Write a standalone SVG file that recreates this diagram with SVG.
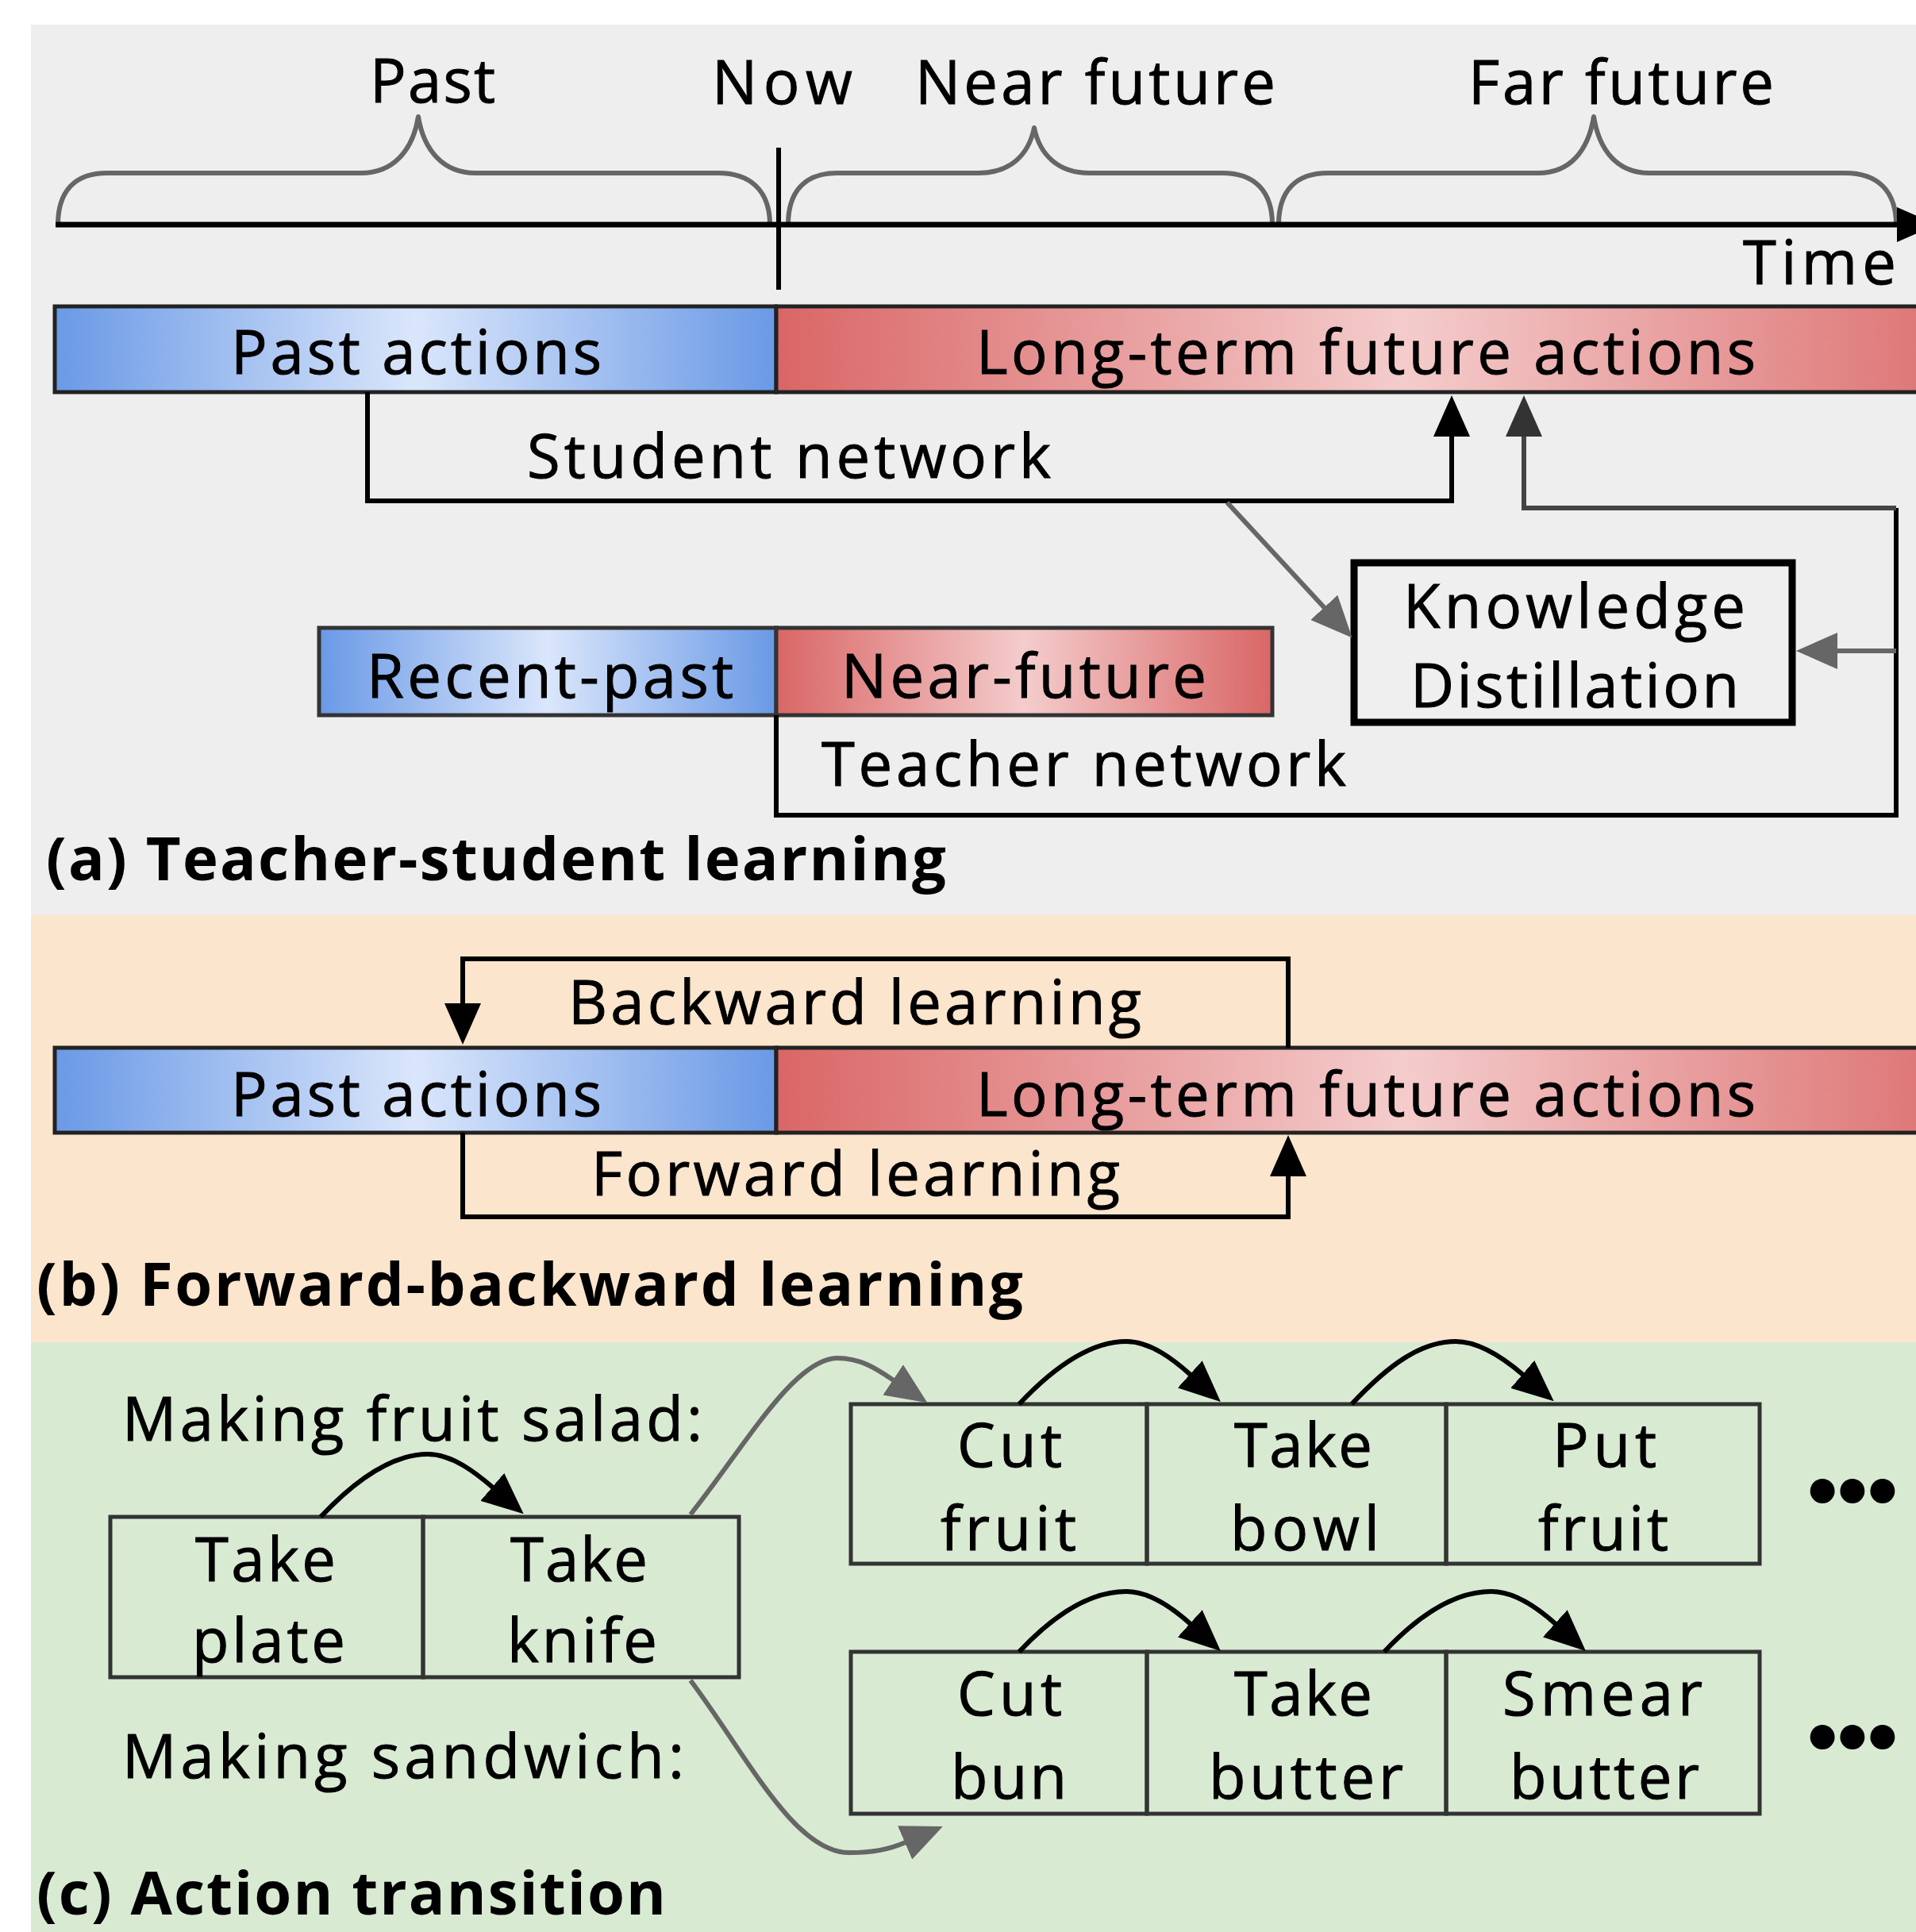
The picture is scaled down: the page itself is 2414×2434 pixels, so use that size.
<svg xmlns="http://www.w3.org/2000/svg" width="2414" height="2434" viewBox="0 0 2414 2434">
  <style>
    .t { font-family: "Open Sans", "Noto Sans", sans-serif; font-size: 76px; fill: #000; stroke: #000; stroke-width: 1; }
    .b { font-family: "Open Sans", "Noto Sans", sans-serif; font-size: 76px; font-weight: bold; fill: #000; }
    .bar { stroke: #222; stroke-width: 5; }
    .bar2 { stroke: #333; stroke-width: 5; }
    .cell { fill: none; stroke: #333; stroke-width: 5; }
    .brace { fill: none; stroke: #666; stroke-width: 6; stroke-linejoin: round; }
    .blk { fill: none; stroke: #000; stroke-width: 6; }
    .gry { fill: none; stroke: #666; stroke-width: 6; }
    .arc { fill: none; stroke: #000; stroke-width: 6; }
    .dots { font-family: "Liberation Sans", Arial, sans-serif; font-size: 108px; font-weight: bold; fill: #000; }
  </style>
  <defs>
    <linearGradient id="blue">
      <stop offset="0" stop-color="#6a99e6"/>
      <stop offset="0.5" stop-color="#dae6fb"/>
      <stop offset="1" stop-color="#6a99e6"/>
    </linearGradient>
    <linearGradient id="red">
      <stop offset="0" stop-color="#da6666"/>
      <stop offset="0.5" stop-color="#f4cccc"/>
      <stop offset="1" stop-color="#da6666"/>
    </linearGradient>
    <marker id="ahB" viewBox="0 -23 52 46" refX="1" refY="0" markerWidth="52" markerHeight="46" markerUnits="userSpaceOnUse" orient="auto">
      <path d="M0,-23 L52,0 L0,23 z" fill="#000"/>
    </marker>
    <marker id="ahG" viewBox="0 -23 52 46" refX="1" refY="0" markerWidth="52" markerHeight="46" markerUnits="userSpaceOnUse" orient="auto">
      <path d="M0,-23 L52,0 L0,23 z" fill="#666"/>
    </marker>
    <marker id="ahD" viewBox="0 -23 52 46" refX="1" refY="0" markerWidth="52" markerHeight="46" markerUnits="userSpaceOnUse" orient="auto">
      <path d="M0,-23 L52,0 L0,23 z" fill="#333"/>
    </marker>
  </defs>

  <!-- panel backgrounds -->
  <rect x="0" y="0" width="2414" height="2434" fill="#fff"/>
  <rect x="39" y="31" width="2375" height="1122" fill="#eeeeee"/>
  <rect x="39" y="1153" width="2375" height="538" fill="#fce5cd"/>
  <rect x="39" y="1691" width="2375" height="743" fill="#d9ead3"/>

  <!-- (a) time axis with period braces -->
  <g id="timeline">
    <path class="brace" d="M73,283 C73,240 95,218 135,218 H455 C495,218 520,190 527,147 C534,190 559,218 599,218 H905 C945,218 970,240 970,283"/>
    <path class="brace" d="M993,283 C993,240 1015,218 1055,218 H1233 C1273,218 1296,195 1303,161 C1310,195 1333,218 1373,218 H1540 C1580,218 1603,240 1603,283"/>
    <path class="brace" d="M1611,283 C1611,240 1633,218 1673,218 H1938 C1978,218 2001,190 2008,147 C2015,190 2038,218 2078,218 H2325 C2365,218 2389,240 2389,283"/>
    <line x1="70" y1="283" x2="2395" y2="283" stroke="#000" stroke-width="7"/>
    <polygon points="2390,261 2440,283 2390,305" fill="#000"/>
    <line x1="981" y1="186" x2="981" y2="365" stroke="#000" stroke-width="6"/>
    <text class="t" x="466" y="129" textLength="158">Past</text>
    <text class="t" x="897" y="131" textLength="177">Now</text>
    <text class="t" x="1153" y="131" textLength="454">Near future</text>
    <text class="t" x="1850" y="131" textLength="385">Far future</text>
    <text class="t" x="2196" y="358" textLength="193">Time</text>
  </g>

  <!-- (a) action bars -->
  <g id="a-past">
    <rect class="bar" x="69" y="386" width="909" height="108" fill="url(#blue)"/>
    <text class="t" x="291" y="471" textLength="467">Past actions</text>
  </g>
  <g id="a-future">
    <rect class="bar" x="978" y="386" width="1580" height="108" fill="url(#red)"/>
    <text class="t" x="1230" y="471" textLength="982">Long-term future actions</text>
  </g>
  <g id="recent-past">
    <rect class="bar2" x="402" y="791" width="576" height="110" fill="url(#blue)"/>
    <text class="t" x="462" y="879" textLength="462">Recent-past</text>
  </g>
  <g id="near-future">
    <rect class="bar2" x="978" y="791" width="625" height="110" fill="url(#red)"/>
    <text class="t" x="1060" y="879" textLength="460">Near-future</text>
  </g>
  <g id="kd">
    <rect x="1706" y="709" width="552" height="201" fill="#efefef" stroke="#000" stroke-width="9"/>
    <text class="t" x="1768" y="791" textLength="431">Knowledge</text>
    <text class="t" x="1777" y="891" textLength="414">Distillation</text>
  </g>

  <!-- (b) action bars -->
  <g id="b-past">
    <rect class="bar" x="69" y="1320" width="909" height="107" fill="url(#blue)"/>
    <text class="t" x="291" y="1406" textLength="467">Past actions</text>
  </g>
  <g id="b-future">
    <rect class="bar" x="978" y="1320" width="1580" height="107" fill="url(#red)"/>
    <text class="t" x="1230" y="1406" textLength="982">Long-term future actions</text>
  </g>

  <!-- (c) action sequences -->
  <g id="c-start">
    <rect class="cell" x="139" y="1911" width="394" height="202"/>
    <rect class="cell" x="533" y="1911" width="398" height="202"/>
    <text class="t" x="246" y="1992" textLength="177">Take</text>
    <text class="t" x="242" y="2094" textLength="193">plate</text>
    <text class="t" x="643" y="1992" textLength="173">Take</text>
    <text class="t" x="639" y="2094" textLength="189">knife</text>
  </g>
  <g id="c-salad">
    <rect class="cell" x="1072" y="1769" width="373" height="201"/>
    <rect class="cell" x="1445" y="1769" width="377" height="201"/>
    <rect class="cell" x="1822" y="1769" width="395" height="201"/>
    <text class="t" x="1206" y="1848" textLength="132">Cut</text>
    <text class="t" x="1185" y="1953" textLength="171">fruit</text>
    <text class="t" x="1555" y="1848" textLength="174">Take</text>
    <text class="t" x="1550" y="1953" textLength="188">bowl</text>
    <text class="t" x="1956" y="1848" textLength="131">Put</text>
    <text class="t" x="1938" y="1953" textLength="164">fruit</text>
    <text class="dots" x="2334" y="1914" text-anchor="middle">•••</text>
  </g>
  <g id="c-sandwich">
    <rect class="cell" x="1072" y="2081" width="373" height="204"/>
    <rect class="cell" x="1445" y="2081" width="377" height="204"/>
    <rect class="cell" x="1822" y="2081" width="395" height="204"/>
    <text class="t" x="1206" y="2161" textLength="132">Cut</text>
    <text class="t" x="1198" y="2266" textLength="146">bun</text>
    <text class="t" x="1555" y="2161" textLength="174">Take</text>
    <text class="t" x="1523" y="2266" textLength="245">butter</text>
    <text class="t" x="1893" y="2161" textLength="252">Smear</text>
    <text class="t" x="1902" y="2266" textLength="239">butter</text>
    <text class="dots" x="2334" y="2224" text-anchor="middle">•••</text>
  </g>

  <!-- connectors -->
  <g id="connectors">
    <!-- student network -->
    <path class="blk" d="M463,494 V631 H1829 V549" marker-end="url(#ahB)"/>
    <!-- teacher network -->
    <path class="blk" d="M978,901 V1027 H2389 V640"/>
    <path fill="none" stroke="#444" stroke-width="6" d="M2389,640 H1920 V549" marker-end="url(#ahD)"/>
    <!-- into knowledge distillation -->
    <path class="gry" d="M1546,633 L1669,766" marker-end="url(#ahG)"/>
    <path class="gry" d="M2389,820 H2314" marker-end="url(#ahG)"/>
    <!-- backward / forward learning -->
    <path class="blk" d="M1623,1320 V1208 H583 V1265" marker-end="url(#ahB)"/>
    <path class="blk" d="M583,1427 V1533 H1623 V1481" marker-end="url(#ahB)"/>
    <!-- action transitions -->
    <path class="arc" d="M404,1911 C450,1862 495,1832 539,1832 C570,1832 600,1856 621,1874" marker-end="url(#ahB)"/>
    <path class="arc" d="M1284,1769 C1330,1720 1375,1690 1419,1690 C1450,1690 1480,1714 1500,1732" marker-end="url(#ahB)"/>
    <path class="arc" d="M1703,1769 C1749,1720 1790,1690 1834,1690 C1866,1690 1898,1714 1919,1732" marker-end="url(#ahB)"/>
    <path class="arc" d="M1284,2081 C1330,2032 1375,2005 1419,2005 C1450,2005 1480,2028 1500,2046" marker-end="url(#ahB)"/>
    <path class="arc" d="M1744,2081 C1790,2032 1835,2005 1879,2005 C1910,2005 1940,2028 1960,2046" marker-end="url(#ahB)"/>
    <path class="gry" d="M870,1908 C940,1820 1000,1712 1055,1711 C1085,1711 1105,1725 1126,1739" marker-end="url(#ahG)"/>
    <path class="gry" d="M870,2117 C940,2210 1000,2334 1070,2334 C1100,2334 1120,2330 1141,2321" marker-end="url(#ahG)"/>
  </g>

  <!-- bracket labels and panel captions -->
  <g id="labels">
    <text class="t" x="664" y="602" textLength="660">Student network</text>
    <text class="t" x="1035" y="990" textLength="661">Teacher network</text>
    <text class="b" x="58" y="1109" textLength="1134">(a) Teacher-student learning</text>
    <text class="t" x="716" y="1290" textLength="722">Backward learning</text>
    <text class="t" x="745" y="1506" textLength="666">Forward learning</text>
    <text class="b" x="46" y="1645" textLength="1243">(b) Forward-backward learning</text>
    <text class="t" x="154" y="1815" textLength="731">Making fruit salad:</text>
    <text class="t" x="154" y="2240" textLength="708">Making sandwich:</text>
    <text class="b" x="46" y="2412" textLength="793">(c) Action transition</text>
  </g>
</svg>
